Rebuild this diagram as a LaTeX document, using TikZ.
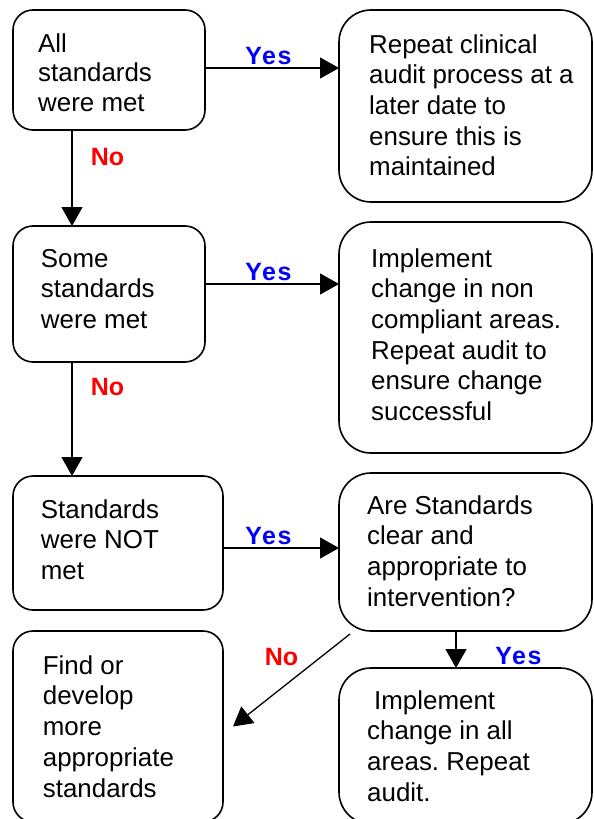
\documentclass[tikz,border=0pt]{standalone}
\usepackage{fontspec}
\setmainfont{Liberation Sans}
\newfontfamily\lblfont[LetterSpace=6]{Liberation Sans}
\usetikzlibrary{arrows.meta}
\definecolor{yesblue}{RGB}{0,0,255}
\definecolor{nored}{RGB}{255,0,0}
\frenchspacing
\begin{document}
\begin{tikzpicture}[x=1pt,y=-1pt,
  lbox/.style={draw, line width=1.6pt, rounded corners=20pt, inner sep=0pt, outer sep=0pt},
  rbox/.style={draw, line width=1.6pt, rounded corners=32pt, inner sep=0pt, outer sep=0pt},
  txt/.style={anchor=north west, inner sep=0pt, align=left, font=\fontsize{25.9}{30.7}\selectfont},
  yeslbl/.style={text=yesblue, inner sep=0pt, font=\lblfont\bfseries\fontsize{25}{30}\selectfont},
  nolbl/.style={text=nored, inner sep=0pt, font=\bfseries\fontsize{25}{30}\selectfont},
  arr/.style={line width=1.3pt, -{Triangle[length=19pt,width=21pt]}}]
\useasboundingbox (0,0) rectangle (594,819);
% boxes
\node[lbox, minimum width=192pt, minimum height=120pt] (a) at (109,70) {};
\node[rbox, minimum width=253pt, minimum height=192pt] (b) at (465.5,106) {};
\node[lbox, minimum width=192pt, minimum height=136pt] (c) at (109,294) {};
\node[rbox, minimum width=253pt, minimum height=231pt] (d) at (465.5,337.5) {};
\node[lbox, minimum width=210pt, minimum height=134pt] (e) at (118,543) {};
\node[rbox, minimum width=253pt, minimum height=158pt] (f) at (465.5,552) {};
\node[lbox, minimum width=210pt, minimum height=191pt] (g) at (118,726.5) {};
\node[rbox, minimum width=253pt, minimum height=156pt] (h) at (465.5,746) {};
% texts
\node[txt, font=\fontsize{25.9}{29.5}\selectfont] (ta) at (38,31.35) {\strut All\\standards\\were met};
\node[txt] (tb) at (369,31.5) {\strut Repeat clinical\\audit process at a\\later date to\\ensure this is\\maintained};
\node[txt] (tc) at (40.7,245.5) {\strut Some\\standards\\were met};
\node[txt] (td) at (371,245.5) {\strut Implement\\change in non\\compliant areas.\\Repeat audit to\\ensure change\\successful};
\node[txt] (te) at (40.7,496.5) {\strut Standards\\were NOT\\met};
\node[txt] (tf) at (367,492.5) {\strut Are Standards\\clear and\\appropriate to\\intervention?};
\node[txt] (tg) at (42.7,652.5) {\strut Find or\\develop\\more\\appropriate\\standards};
\node[txt] (th) at (367,687.5) {\strut\hspace*{7pt}Implement\\change in all\\areas. Repeat\\audit.};
% arrows
\draw[arr] ([yshift=-58pt]a.north east) -- ([yshift=-58pt]b.north west);
\draw[arr] ([xshift=59pt]a.south west) -- ([xshift=59pt]c.north west);
\draw[arr] ([yshift=-58pt]c.north east) -- ([yshift=-62pt]d.north west);
\draw[arr] ([xshift=59pt]c.south west) -- ([xshift=59pt]e.north west);
\draw[arr] ([yshift=-72pt]e.north east) -- ([yshift=-75pt]f.north west);
\draw[arr] ([xshift=117pt]f.south west) -- ([xshift=117pt]h.north west);
\draw[arr] ([xshift=11pt,yshift=-3pt]f.south west) -- ([xshift=10pt]g.east);
% labels
\node[yeslbl] (y1) at (268.5,56.5) {Yes};
\node[yeslbl] (y2) at (268.5,272.5) {Yes};
\node[yeslbl] (y3) at (268.5,536.5) {Yes};
\node[yeslbl] (y4) at (518.5,656.5) {Yes};
\node[nolbl] (n1) at (107.5,157) {No};
\node[nolbl] (n2) at (107.5,387.5) {No};
\node[nolbl] (n3) at (281.5,657.5) {No};
\end{tikzpicture}
\end{document}
